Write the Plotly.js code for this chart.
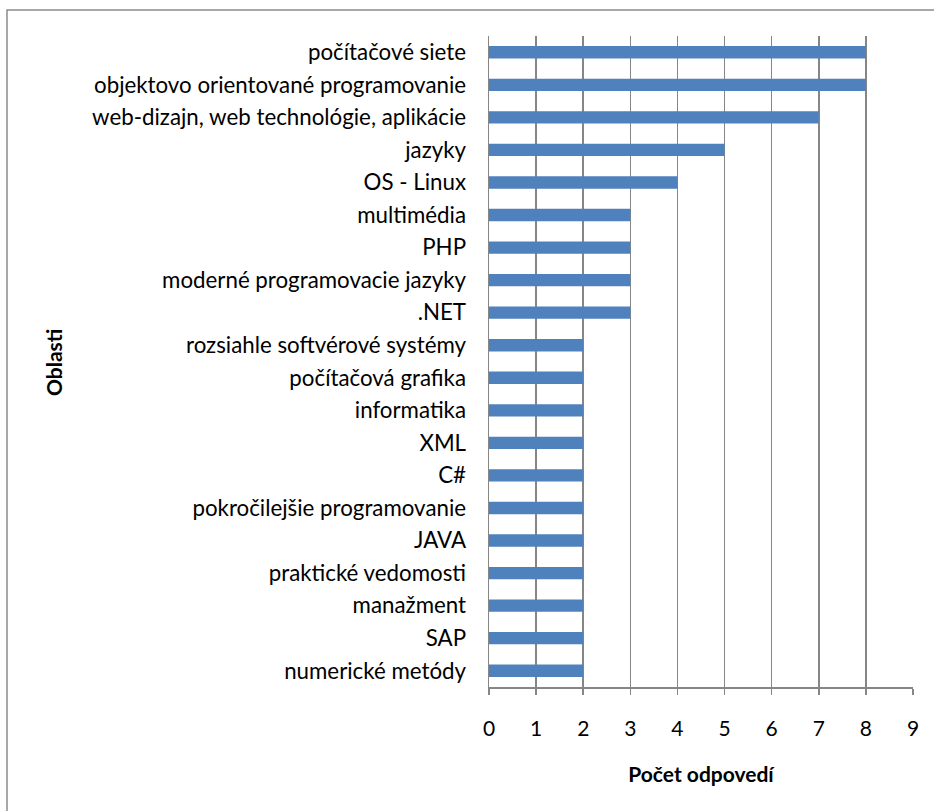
<!DOCTYPE html>
<html>
<head>
<meta charset="utf-8">
<script src="https://cdn.plot.ly/plotly-3.0.1.min.js"></script>
<style>
  html, body { margin: 0; padding: 0; background: #ffffff; }
  #chart { width: 934px; height: 811px; }
</style>
</head>
<body>
<div id="chart"></div>
<script>
const categories = [
  "počítačové siete",
  "objektovo orientované programovanie",
  "web-dizajn, web technológie, aplikácie",
  "jazyky",
  "OS - Linux",
  "multimédia",
  "PHP",
  "moderné programovacie jazyky",
  ".NET",
  "rozsiahle softvérové systémy",
  "počítačová grafika",
  "informatika",
  "XML",
  "C#",
  "pokročilejšie programovanie",
  "JAVA",
  "praktické vedomosti",
  "manažment",
  "SAP",
  "numerické metódy"
];
const counts = [8, 8, 7, 5, 4, 3, 3, 3, 3, 2, 2, 2, 2, 2, 2, 2, 2, 2, 2, 2];
const xTicks = [0, 1, 2, 3, 4, 5, 6, 7, 8, 9];
const xTitle = "Počet odpovedí";
const yTitle = "Oblasti";

const W = 934, H = 811;
const margin = { l: 489, r: 21, t: 36, b: 124 };
const pw = W - margin.l - margin.r, ph = H - margin.t - margin.b;
const px = v => (v - margin.l) / pw;
const py = v => 1 - (v - margin.t) / ph;

const fontFam = "Lato, 'Open Sans', sans-serif";

const trace = {
  type: "bar",
  orientation: "h",
  x: counts,
  y: categories,
  marker: { color: "#4F81BD", line: { width: 0 } },
  width: 0.38,
  hoverinfo: "x+y"
};

const layout = {
  width: W,
  height: H,
  margin: margin,
  paper_bgcolor: "#ffffff",
  plot_bgcolor: "#ffffff",
  showlegend: false,
  font: { family: fontFam, size: 22, color: "#000000" },
  xaxis: {
    range: [0, 9],
    tickvals: xTicks,
    ticktext: xTicks.map(String),
    showgrid: true,
    gridcolor: "#868686",
    gridwidth: 1.5,
    zeroline: false,
    showline: true,
    linecolor: "#868686",
    linewidth: 1.5,
    ticks: "outside",
    ticklen: 6,
    tickwidth: 1.5,
    tickcolor: "#868686",
    ticklabelstandoff: 16,
    tickfont: { family: fontFam, size: 21, color: "#000000" },
    title: { text: xTitle, font: { family: fontFam, size: 21, color: "#000000", weight: "bold" }, standoff: 28 },
    fixedrange: true
  },
  yaxis: {
    type: "category",
    autorange: "reversed",
    showgrid: false,
    zeroline: false,
    showline: true,
    linecolor: "#868686",
    linewidth: 1.5,
    ticks: "",
    ticklabelstandoff: 17,
    tickfont: { family: fontFam, size: 22.3, color: "#000000" },
    automargin: false,
    fixedrange: true
  },
  annotations: [
    {
      text: "<b>" + yTitle + "</b>",
      xref: "paper", yref: "paper",
      x: px(53), y: py(362),
      xanchor: "center", yanchor: "middle",
      textangle: -90,
      showarrow: false,
      font: { family: fontFam, size: 21, color: "#000000" }
    }
  ],
  shapes: [
    {
      type: "rect",
      xref: "paper", yref: "paper",
      x0: px(7), x1: px(940),
      y0: py(10), y1: py(820),
      line: { color: "#8c8c8c", width: 1.5 },
      fillcolor: "rgba(0,0,0,0)",
      layer: "below"
    }
  ]
};

Plotly.newPlot("chart", [trace], layout, { displayModeBar: false, staticPlot: true });
</script>
</body>
</html>
